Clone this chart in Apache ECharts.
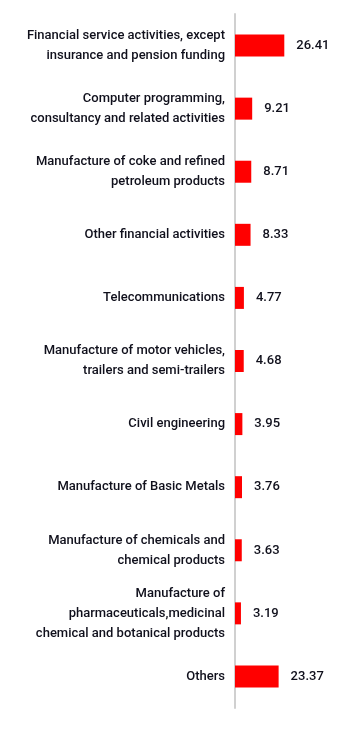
<!DOCTYPE html>
<html><head><meta charset="utf-8">
<script src="https://cdn.jsdelivr.net/npm/echarts@6/dist/echarts.min.js"></script>
<style>html,body{margin:0;padding:0;background:#fff}#c{width:361px;height:733px}</style>
</head><body><div id="c"></div>
<script>
var categories = [
  "Financial service activities, except\ninsurance and pension funding",
  "Computer programming,\nconsultancy and related activities",
  "Manufacture of coke and refined\npetroleum products",
  "Other financial activities",
  "Telecommunications",
  "Manufacture of motor vehicles,\ntrailers and semi-trailers",
  "Civil engineering",
  "Manufacture of Basic Metals",
  "Manufacture of chemicals and\nchemical products",
  "Manufacture of\npharmaceuticals,medicinal\nchemical and botanical products",
  "Others"
];
var values = [26.41, 9.21, 8.71, 8.33, 4.77, 4.68, 3.95, 3.76, 3.63, 3.19, 23.37];

var chart = echarts.init(document.getElementById('c'), null, {renderer: 'canvas'});
chart.setOption({
  animation: false,
  grid: {left: 235, right: 14, top: 14, height: 694, containLabel: false},
  xAxis: {type: 'value', min: 0, max: 60, show: false},
  yAxis: {
    type: 'category', data: categories, inverse: true,
    axisLine: {show: true, lineStyle: {color: '#d0d0d0', width: 2}},
    axisTick: {show: false},
    axisLabel: {fontFamily: 'Roboto', fontSize: 13, fontWeight: 500, color: '#10101c', lineHeight: 20, margin: 10, align: 'right'},
    splitLine: {show: false}
  },
  series: [{
    type: 'bar', data: values, barWidth: 22,
    itemStyle: {color: '#ff0000'},
    label: {show: true, position: 'right', distance: 12, fontFamily: 'Roboto', fontSize: 13, fontWeight: 500, color: '#10101c',
      formatter: function(p){ return p.value.toFixed(2); }}
  }]
});
</script></body></html>
